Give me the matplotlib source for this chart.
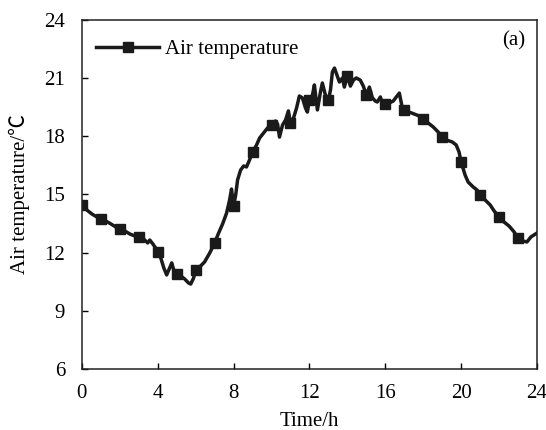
import matplotlib
matplotlib.use("Agg")
import matplotlib.pyplot as plt

time_h = [0, 0.26, 0.53, 0.79, 1, 1.26, 1.53, 1.79, 2, 2.26, 2.53, 2.79, 3,
          3.26, 3.47, 3.58, 3.74, 3.89, 4, 4.16, 4.32, 4.47, 4.63, 4.74, 4.84, 5,
          5.21, 5.42, 5.63, 5.74, 5.89, 6, 6.21, 6.47, 6.74, 7, 7.21, 7.42, 7.63,
          7.79, 7.89, 8, 8.11, 8.21, 8.37, 8.53, 8.68, 8.84, 9, 9.21, 9.37, 9.58,
          9.79, 10, 10.21, 10.32, 10.42, 10.58, 10.74, 10.89, 11, 11.16, 11.32,
          11.47, 11.63, 11.79, 11.89, 12, 12.16, 12.26, 12.42, 12.58, 12.68, 12.84,
          13, 13.11, 13.21, 13.32, 13.47, 13.58, 13.74, 13.84, 14, 14.16, 14.32,
          14.47, 14.68, 14.84, 15, 15.16, 15.32, 15.47, 15.58, 15.74, 15.84, 16,
          16.21, 16.42, 16.58, 16.74, 16.89, 17, 17.26, 17.53, 17.79, 18, 18.26,
          18.53, 18.79, 19, 19.21, 19.53, 19.74, 19.89, 20, 20.21, 20.37, 20.63,
          20.84, 21, 21.26, 21.53, 21.74, 22, 22.26, 22.53, 22.79, 23, 23.26,
          23.47, 23.68, 24]

air_temp = [14.46, 14.20, 13.99, 13.84, 13.74, 13.63, 13.48, 13.32, 13.22, 13.12,
            12.96, 12.86, 12.81, 12.70, 12.50, 12.65, 12.45, 12.24, 12.03, 11.72,
            11.21, 10.85, 11.21, 11.47, 11.11, 10.90, 10.80, 10.64, 10.43, 10.38,
            10.69, 11.11, 11.26, 11.52, 11.98, 12.50, 13.01, 13.48, 14.04, 14.72,
            15.28, 14.41, 14.97, 15.75, 16.26, 16.47, 16.42, 16.78, 17.19, 17.55,
            17.91, 18.17, 18.43, 18.58, 18.79, 18.63, 17.96, 18.58, 18.84, 19.31,
            18.69, 18.94, 19.46, 20.08, 19.98, 19.46, 19.25, 19.87, 20.13, 20.65,
            19.36, 20.28, 20.75, 20.13, 19.87, 20.39, 21.32, 21.52, 21.11, 20.80,
            21.01, 20.54, 21.11, 20.59, 20.90, 21.01, 20.90, 20.59, 20.13, 20.54,
            19.98, 19.82, 19.77, 20.03, 19.72, 19.67, 19.72, 19.82, 20.03, 20.23,
            19.51, 19.36, 19.25, 19.15, 19.05, 18.89, 18.69, 18.48, 18.22, 17.96,
            17.81, 17.71, 17.55, 17.19, 16.67, 16.00, 15.64, 15.39, 15.23, 14.97,
            14.72, 14.46, 14.15, 13.84, 13.58, 13.37, 13.07, 12.76, 12.60, 12.55,
            12.81, 13.01]

x_ticks = [0, 4, 8, 12, 16, 20, 24]
y_ticks = [6, 9, 12, 15, 18, 21, 24]
marker_idx = [i for i, t in enumerate(time_h) if float(t).is_integer() and t < 24]

plt.rcParams['font.family'] = ['Liberation Serif', 'DejaVu Serif']

fig = plt.figure(figsize=(5.46, 4.30), dpi=100)
ax = fig.add_axes([0.150, 0.142, 0.8335, 0.8115])

ax.plot(time_h, air_temp, color='#1a1a1a', lw=2.5, marker='s', ms=7.5,
        markevery=marker_idx, label='Air temperature')

ax.set_xlim(0, 24)
ax.set_ylim(6, 24)
ax.set_xticks(x_ticks)
ax.set_yticks(y_ticks)
ax.tick_params(direction='in', length=4.5, width=1, labelsize=15,
               top=False, right=False)
ax.tick_params(axis='x', pad=11)
ax.tick_params(axis='y', pad=12)
for s in ax.spines.values():
    s.set_linewidth(1.1)
    s.set_color('#222222')

ax.set_xlabel('Time/h', fontsize=15, labelpad=6)
ax.set_ylabel('Air temperature/℃', fontsize=15,
              family=['Liberation Serif', 'Noto Sans CJK SC', 'DejaVu Sans'], labelpad=10)

ax.legend(loc='upper left', frameon=False, fontsize=15, handlelength=3.0,
          handletextpad=0.3, borderaxespad=0.3, bbox_to_anchor=(0.0, 0.985))
ax.text(0.975, 0.94, '(a)', transform=ax.transAxes, ha='right', va='center', fontsize=15)

fig.savefig('out.png', dpi=100)
